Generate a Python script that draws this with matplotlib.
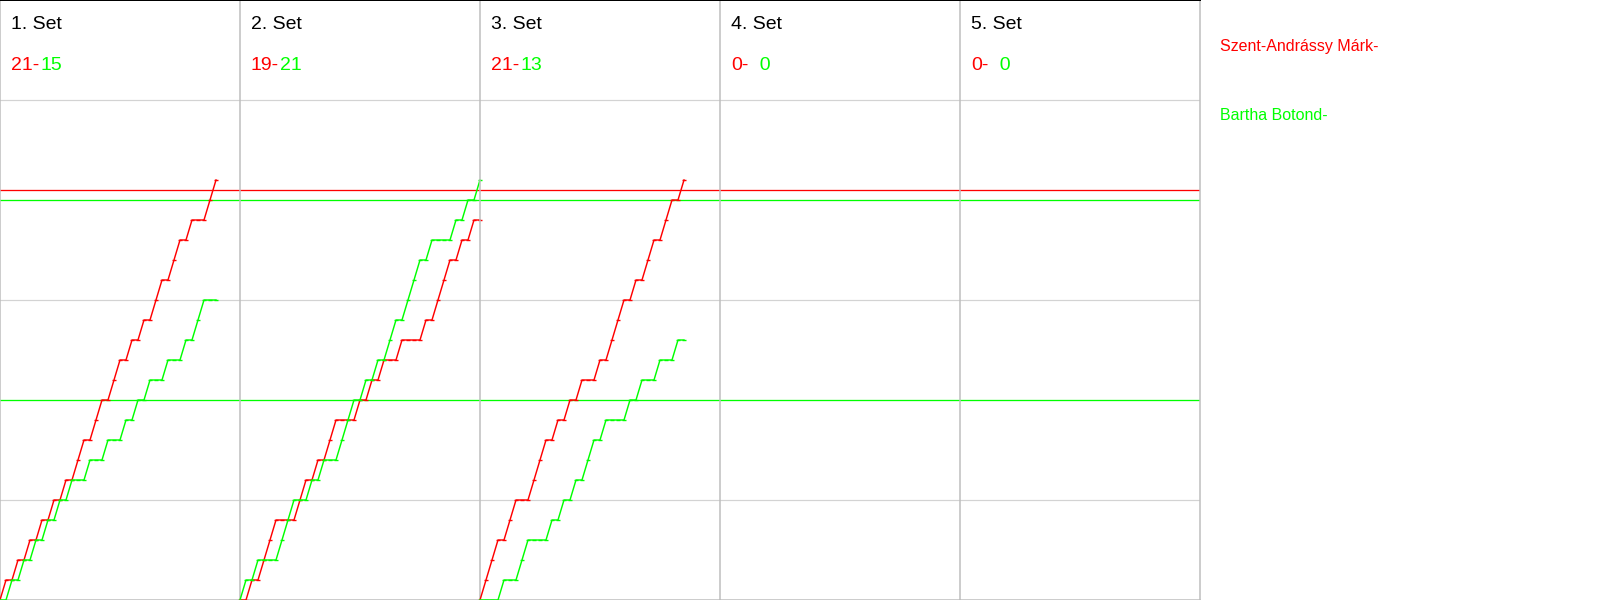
import matplotlib
matplotlib.use('Agg')
import matplotlib.pyplot as plt
import numpy as np

plt.rcParams['font.family'] = ['Liberation Sans', 'DejaVu Sans']

set_labels = ['1. Set', '2. Set', '3. Set', '4. Set', '5. Set']
player_names = ['Szent-Andrássy Márk', 'Bartha Botond']
player_colors = ['#ff0000', '#00ff00']

# winner of every rally, R = first player, G = second player
set1_rallies = list('RGRGRGRGRGRGRRGRRGRRGRGRGRRGRRGRGGRR')
set2_rallies = list('GRGRRRGGGRRGRGRRGGGRGRGRGGRGGGRGRRRGRGRG')
set3_rallies = list('RRRGRRGGRRRGRGRGRGGRGRRRGRGRRGRRGR')
set4_rallies = []
set5_rallies = []
all_sets = [set1_rallies, set2_rallies, set3_rallies, set4_rallies, set5_rallies]

max_rallies = 40
max_score = 30
grid_scores = [5, 15, 25]
first_player_line = 20.5
second_player_lines = [10, 20]

W, H = 1600, 600
fig = plt.figure(figsize=(16, 6), dpi=100)
px = 1.0 * 72 / 100  # one pixel in points

for i, rallies in enumerate(all_sets):
    ax = fig.add_axes([i * 240 / W, 0, 240 / W, 1])
    ax.set_xlim(0, max_rallies)
    ax.set_ylim(0, max_score)
    ax.set_xticks([])
    ax.set_yticks([])
    ax.patch.set_alpha(0)

    for s in grid_scores:
        ax.axhline(s, color='#d3d3d3', lw=1.2 * px, zorder=1)
    ax.axhline(first_player_line, color=player_colors[0], lw=1.3 * px, zorder=2)
    for s in second_player_lines:
        ax.axhline(s, color=player_colors[1], lw=1.3 * px, zorder=2)

    r_score = np.concatenate([[0], np.cumsum([w == 'R' for w in rallies])]).astype(int)
    g_score = np.concatenate([[0], np.cumsum([w == 'G' for w in rallies])]).astype(int)
    x = np.arange(len(rallies) + 1)
    if len(rallies) > 0:
        ax.plot(x, r_score, color=player_colors[0], lw=1.2 * px * 1.2,
                marker='_', ms=2.5, mew=1.0, zorder=3, clip_on=False)
        ax.plot(x, g_score, color=player_colors[1], lw=1.2 * px * 1.2,
                marker='_', ms=2.5, mew=1.0, zorder=3, clip_on=False)

    for side in ['left', 'right', 'bottom', 'top']:
        ax.spines[side].set_visible(False)
    ax.spines['left'].set_visible(True)
    ax.spines['left'].set_color('#bdbdbd')
    ax.spines['left'].set_linewidth(1.5 * px)
    ax.spines['bottom'].set_visible(True)
    ax.spines['bottom'].set_color('#bdbdbd')
    ax.spines['bottom'].set_linewidth(1.5 * px)
    ax.spines['top'].set_visible(True)
    ax.spines['top'].set_color('black')
    ax.spines['top'].set_linewidth(2 * px)
    if i == len(all_sets) - 1:
        ax.spines['right'].set_visible(True)
        ax.spines['right'].set_color('#bdbdbd')
        ax.spines['right'].set_linewidth(1.5 * px)

    ax.text(11 / 240, 1 - 29 / H, set_labels[i], transform=ax.transAxes,
            fontsize=14, va='baseline', ha='left', color='black')
    r_final = r_score[-1]
    g_final = g_score[-1]
    red_txt = ax.text(11 / 240, 1 - 70 / H, f'{r_final}-', transform=ax.transAxes,
                      fontsize=14, va='baseline', ha='left', color=player_colors[0])
    g_str = str(g_final) if g_final >= 10 else '  ' + str(g_final)
    ax.annotate(g_str, xy=(1, 0), xycoords=red_txt, xytext=(1, 0),
                textcoords='offset pixels', fontsize=14, va='bottom', ha='left',
                color=player_colors[1])

fig.text(1220 / W, 1 - 50.5 / H, player_names[0] + '-', color=player_colors[0],
         fontsize=11.5, va='baseline', ha='left')
fig.text(1220 / W, 1 - 120 / H, player_names[1] + '-', color=player_colors[1],
         fontsize=11.5, va='baseline', ha='left')

fig.savefig('out.png', dpi=100, facecolor='white')
